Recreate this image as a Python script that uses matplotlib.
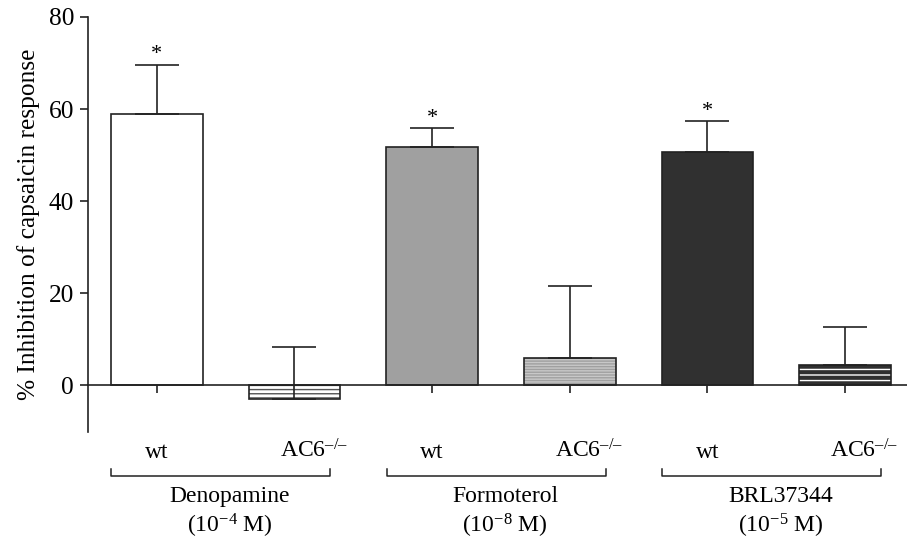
import matplotlib
matplotlib.use("Agg")
import matplotlib.pyplot as plt
import numpy as np

plt.rcParams['font.family'] = ['Liberation Serif', 'DejaVu Serif']
plt.rcParams['mathtext.fontset'] = 'custom'
plt.rcParams['mathtext.rm'] = 'Liberation Serif'
plt.rcParams['mathtext.it'] = 'Liberation Serif:italic'
plt.rcParams['hatch.linewidth'] = 1.0

groups = ["Denopamine", "Formoterol", "BRL37344"]
concentrations = ["(10$^{\u22124}$ M)", "(10$^{\u22128}$ M)", "(10$^{\u22125}$ M)"]
genotypes = ["wt", "AC6$^{\u2013/\u2013}$"]
wt_values = [59.0, 51.8, 50.6]
wt_err = [10.6, 4.0, 6.8]
ko_values = [-3.0, 5.9, 4.3]
ko_err = [11.3, 15.6, 8.3]
significant = [True, True, True]

colors = ["#ffffff", "#a0a0a0", "#303030"]
hatch_colors = ["#555555", "#c8c8c8", "#ffffff"]
hatches = ["----", "------", "---"]

fs = 18.3
fs2 = 17
fig = plt.figure(figsize=(9.07, 5.41), dpi=100)
ax = fig.add_axes([0.097, 0.2015, 0.903, 0.7671])

width = 0.667
edge = "#222222"
for g in range(3):
    xw = 2 * g
    xk = 2 * g + 1
    ax.bar(xw, wt_values[g], width=width, color=colors[g], edgecolor=edge, linewidth=1.2, zorder=2)
    ax.bar(xk, ko_values[g], width=width, color=colors[g], edgecolor=hatch_colors[g],
           hatch=hatches[g], linewidth=0, zorder=2)
    ax.bar(xk, ko_values[g], width=width, facecolor="none", edgecolor=edge, linewidth=1.2, zorder=3)
    ax.errorbar([xw], [wt_values[g]], yerr=[[0], [wt_err[g]]], fmt="none", ecolor=edge,
                elinewidth=1.2, capsize=16, capthick=1.2, zorder=4)
    ax.errorbar([xk], [ko_values[g]], yerr=[[0], [ko_err[g]]], fmt="none", ecolor=edge,
                elinewidth=1.2, capsize=16, capthick=1.2, zorder=4)
    if significant[g]:
        ax.text(xw, wt_values[g] + wt_err[g] + 0.1, "*", ha="center", va="bottom", fontsize=16)

    # labels under axis
    ax.text(xw, -14.6, genotypes[0], ha="center", va="center", fontsize=fs2, clip_on=False)
    ax.text(xk + 0.14, -14.3, genotypes[1], ha="center", va="center", fontsize=fs2, clip_on=False)
    x0, x1 = 2 * g - 0.33, 2 * g + 1.26
    ax.plot([x0, x0, x1, x1], [-18.3, -19.8, -19.8, -18.3], color=edge, lw=1.1, clip_on=False)
    ax.text(2 * g + 0.53, -24.2, groups[g], ha="center", va="center", fontsize=fs2, clip_on=False)
    ax.text(2 * g + 0.53, -30.7, concentrations[g], ha="center", va="center", fontsize=fs2, clip_on=False)

ax.set_xlim(-0.5, 5.45)
ax.set_ylim(-10.2, 80)
ax.set_yticks([0, 20, 40, 60, 80])
ax.set_xticks(range(6))
ax.set_xticklabels([])
ax.spines['top'].set_visible(False)
ax.spines['right'].set_visible(False)
ax.spines['bottom'].set_position(('data', 0))
for s in ['left', 'bottom']:
    ax.spines[s].set_color(edge)
    ax.spines[s].set_linewidth(1.2)
ax.tick_params(axis='y', direction='out', length=6, width=1.2, labelsize=fs, color=edge, pad=4)
ax.tick_params(axis='x', direction='out', length=6, width=1.2, color=edge)
ax.set_ylabel("% Inhibition of capsaicin response", fontsize=fs, labelpad=6)

fig.savefig("out.png", dpi=100)
